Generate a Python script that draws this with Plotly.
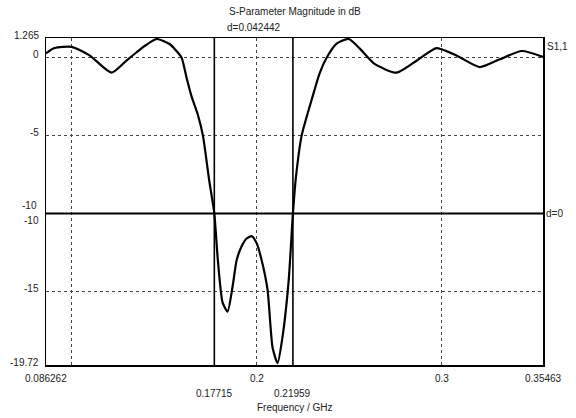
import plotly.graph_objects as go

# ---- data ----
freq_ghz = [0.086262, 0.0909, 0.1001, 0.1098, 0.1217, 0.1300, 0.1352, 0.1401, 0.1460,
            0.1530, 0.1562, 0.1595, 0.1622, 0.1649, 0.1681, 0.1710, 0.1743, 0.17715,
            0.1790, 0.1816, 0.1843,
            0.1870, 0.1892, 0.1919, 0.1946, 0.1973, 0.2000, 0.2027, 0.2059, 0.2086,
            0.2113, 0.2140, 0.2173, 0.21959, 0.2211, 0.2243, 0.2302, 0.2340, 0.2378, 0.2432,
            0.2497, 0.2556, 0.2637, 0.2756, 0.2875, 0.2972, 0.3086, 0.3205, 0.3313,
            0.3432, 0.35463]
s11_db = [0.28, 0.62, 0.70, 0.15, -0.96, -0.15, 0.35, 0.80, 1.20,
          0.88, 0.5, 0.0, -1.3, -2.5, -3.6, -5.0, -7.8, -10.0,
          -12.9, -15.7, -16.3,
          -14.7, -13.0, -12.1, -11.6, -11.45, -11.9, -13.0, -14.9, -18.6,
          -19.6, -17.9, -14.3, -10.0, -7.8, -5.0, -2.5, -1.0, 0.0, 0.9,
          1.2, 0.6, -0.4, -0.96, -0.1, 0.62, 0.1, -0.6, -0.1,
          0.43, 0.05]

marker_freqs = [0.17715, 0.21959]
marker_level = -10.0
marker_label = "-10"
delta_label = "d=0.042442"
level_label = "d=0"
trace_label = "S1,1"

x_range = [0.086262, 0.35463]
y_range = [-19.72, 1.265]
x_grid = [0.1, 0.2, 0.3]
y_grid = [0, -5, -10, -15]
x_tick_vals_row1 = [0.086262, 0.2, 0.3, 0.35463]
x_tick_text_row1 = ["0.086262", "0.2", "0.3", "0.35463"]
y_tick_vals = [1.265, 0, -5, -15, -19.72]
y_tick_text = ["1.265", "0", "-5", "-15", "-19.72"]

title_text = "S-Parameter Magnitude in dB"
x_title = "Frequency / GHz"

FONT = "Liberation Sans"
TXT = "#222222"

fig = go.Figure()
fig.add_trace(go.Scatter(x=freq_ghz, y=s11_db, mode="lines",
                         line=dict(color="black", width=2.2, shape="spline", smoothing=0.6),
                         hoverinfo="skip", showlegend=False))

shapes = []
for mf in marker_freqs:
    shapes.append(dict(type="line", xref="x", yref="paper", x0=mf, x1=mf, y0=0, y1=1,
                       line=dict(color="black", width=1.6)))
shapes.append(dict(type="line", xref="paper", yref="y", x0=0, x1=1, y0=marker_level,
                   y1=marker_level, line=dict(color="black", width=2)))

ann = []
for v, t in zip(y_tick_vals, y_tick_text):
    ann.append(dict(x=0, xref="paper", y=v, yref="y", text=t, showarrow=False,
                    xanchor="right", yanchor="middle", xshift=-5, yshift=3,
                    font=dict(family=FONT, size=10, color=TXT)))
ann.append(dict(x=0, xref="paper", y=-10, yref="y", text="-10", showarrow=False,
                xanchor="right", yanchor="middle", xshift=-5, yshift=-7,
                font=dict(family=FONT, size=10, color=TXT)))
ann.append(dict(x=0, xref="paper", y=marker_level, yref="y", text=marker_label, showarrow=False,
                xanchor="right", yanchor="middle", xshift=-7, yshift=8,
                font=dict(family=FONT, size=10, color=TXT)))
for v, t in zip(x_tick_vals_row1, x_tick_text_row1):
    ann.append(dict(x=v, xref="x", y=0, yref="paper", text=t, showarrow=False,
                    xanchor="center", yanchor="top", yshift=-6,
                    font=dict(family=FONT, size=10, color=TXT)))
for mf in marker_freqs:
    ann.append(dict(x=mf, xref="x", y=0, yref="paper", text=f"{mf:g}", showarrow=False,
                    xanchor="center", yanchor="top", yshift=-21,
                    font=dict(family=FONT, size=10, color=TXT)))
ann.append(dict(x=sum(marker_freqs) / 2, xref="x", y=1, yref="paper", text=delta_label,
                showarrow=False, xanchor="center", yanchor="bottom", yshift=3,
                font=dict(family=FONT, size=10, color=TXT)))
ann.append(dict(x=1, xref="paper", y=marker_level, yref="y", text=level_label, showarrow=False,
                xanchor="left", yanchor="middle", xshift=1,
                font=dict(family=FONT, size=10, color=TXT)))
ann.append(dict(x=1, xref="paper", y=1, yref="paper", text=trace_label, showarrow=False,
                xanchor="left", yanchor="middle", xshift=2, yshift=-8,
                font=dict(family=FONT, size=10, color=TXT)))
ann.append(dict(x=0.5, xref="paper", y=1, yref="paper", text=title_text, showarrow=False,
                xanchor="center", yanchor="bottom", yshift=19,
                font=dict(family=FONT, size=10, color=TXT)))
ann.append(dict(x=0.5, xref="paper", y=0, yref="paper", text=x_title, showarrow=False,
                xanchor="center", yanchor="top", yshift=-35,
                font=dict(family=FONT, size=10, color=TXT)))

fig.update_layout(
    width=576, height=418,
    margin=dict(l=46, r=33, t=38, b=53),
    paper_bgcolor="white", plot_bgcolor="white",
    shapes=shapes, annotations=ann,
    xaxis=dict(range=x_range, tickvals=x_grid, showticklabels=False,
               showgrid=True, gridcolor="#444444", griddash="dot", gridwidth=1,
               showline=True, linecolor="black", linewidth=1.5, mirror=True,
               zeroline=False, ticks=""),
    yaxis=dict(range=y_range, tickvals=y_grid, showticklabels=False,
               showgrid=True, gridcolor="#444444", griddash="dot", gridwidth=1,
               showline=True, linecolor="black", linewidth=1.5, mirror=True,
               zeroline=False, ticks=""),
)
fig.write_html("out.html", config={"displayModeBar": False, "staticPlot": True})

# remove the default page margin so the figure fills the window exactly
with open("out.html", "r", encoding="utf-8") as fh:
    html = fh.read()
html = html.replace("<body>", '<body style="margin:0;padding:0;overflow:hidden">', 1)
html = html.replace("<head>", '<head><style>html,body{margin:0;padding:0;}</style>', 1)
with open("out.html", "w", encoding="utf-8") as fh:
    fh.write(html)
